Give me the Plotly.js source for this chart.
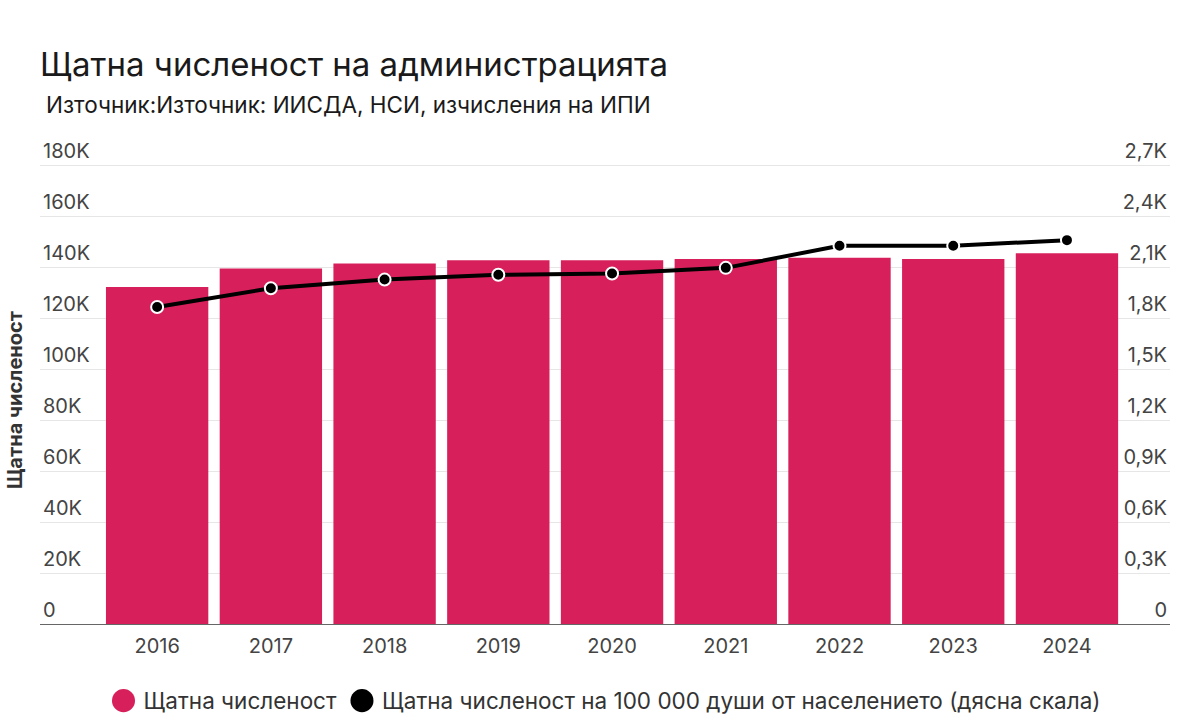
<!DOCTYPE html>
<html>
<head>
<meta charset="utf-8">
<script src="https://cdn.plot.ly/plotly-3.0.1.min.js"></script>
<style>
html,body{margin:0;padding:0;background:#fff;}
#chart{width:1194px;height:727px;}
.legendpoints path.scatterpts{transform:translate(20px,0px) scale(1.44);}
</style>
</head>
<body>
<div id="chart"></div>
<script>
const years = ['2016','2017','2018','2019','2020','2021','2022','2023','2024'];
const staff = [132200, 139400, 141400, 142600, 142600, 143100, 143600, 143100, 145400];
const staffPer100k = [1865, 1975, 2026, 2054, 2062, 2095, 2225, 2225, 2258];
const leftTickVals = [0, 20000, 40000, 60000, 80000, 100000, 120000, 140000, 160000, 180000];
const leftTickText = ['0', '20K', '40K', '60K', '80K', '100K', '120K', '140K', '160K', '180K'];
const rightTickVals = [0, 300, 600, 900, 1200, 1500, 1800, 2100, 2400, 2700];
const rightTickText = ['0', '0,3K', '0,6K', '0,9K', '1,2K', '1,5K', '1,8K', '2,1K', '2,4K', '2,7K'];
const seriesNames = ['Щатна численост', 'Щатна численост на 100 000 души от населението (дясна скала)'];

const barColor = '#d7205b';
const tickColor = '#444';
const font = 'Inter, Roboto, "Noto Sans", sans-serif';

const traces = [
  {
    type: 'bar', x: years, y: staff, name: seriesNames[0],
    marker: {color: barColor}, showlegend: false, hoverinfo: 'x+y'
  },
  {
    type: 'scatter', mode: 'lines+markers', x: years, y: staffPer100k, yaxis: 'y2',
    name: seriesNames[1], showlegend: false,
    line: {color: '#000', width: 4},
    marker: {color: '#000', size: 12, line: {color: '#fff', width: 2}}
  },
  {
    type: 'scatter', mode: 'markers', x: [null], y: [null], name: seriesNames[0],
    marker: {color: barColor, size: 16, symbol: 'circle'}
  },
  {
    type: 'scatter', mode: 'markers', x: [null], y: [null], name: seriesNames[1],
    marker: {color: '#000', size: 16, symbol: 'circle'}
  }
];

// plot area: top 125, bottom 624 (499 px); 180K sits 459 px above the base
const plotTop = 125, plotBottom = 624;
const plotH = plotBottom - plotTop;
const topFrac = plotH / 459;

const layout = {
  width: 1194, height: 727,
  margin: {l: 40, r: 24, t: plotTop, b: 727 - plotBottom},
  paper_bgcolor: '#fff', plot_bgcolor: '#fff',
  font: {family: font, color: '#333'},
  title: {
    text: 'Щатна численост на администрацията',
    font: {family: font, size: 33, color: '#1a1a1a'},
    x: 40/1194, xanchor: 'left', xref: 'container',
    y: 1 - 53/727, yanchor: 'top', yref: 'container'
  },
  bargap: 0.1,
  showlegend: true,
  legend: {
    orientation: 'h', x: 0.5, xanchor: 'center',
    yref: 'container', y: 1 - 701/727, yanchor: 'middle',
    font: {family: font, size: 22.5, color: '#333'},
    itemsizing: 'trace'
  },
  xaxis: {
    type: 'category', range: [-1.03, 8.906],
    showgrid: false, showline: true, linecolor: '#666', linewidth: 1,
    ticks: '', ticklabelstandoff: 4,
    tickfont: {family: font, size: 20, color: tickColor},
    fixedrange: true
  },
  yaxis: {
    range: [0, 180000 * topFrac], tickvals: leftTickVals, ticktext: leftTickText,
    showgrid: true, gridcolor: '#e6e6e6', gridwidth: 1, zeroline: false,
    ticklabelposition: 'inside top', ticks: '',
    tickfont: {family: font, size: 20, color: tickColor},
    title: {text: ''}
  },
  yaxis2: {
    range: [0, 2700 * topFrac], tickvals: rightTickVals, ticktext: rightTickText,
    overlaying: 'y', side: 'right', showgrid: false, zeroline: false,
    ticklabelposition: 'inside top', ticks: '',
    tickfont: {family: font, size: 20, color: tickColor}
  },
  annotations: [
    {
      text: 'Източник:Източник: ИИСДА, НСИ, изчисления на ИПИ',
      xref: 'paper', yref: 'paper', x: 4/1130, xanchor: 'left', align: 'left',
      y: 1 + (plotTop - 104)/plotH, yanchor: 'middle', showarrow: false,
      font: {family: font, size: 22.5, color: '#1a1a1a'}
    },
    {
      text: '<b>Щатна численост</b>',
      xref: 'paper', yref: 'paper', x: -25/1130, xanchor: 'center',
      y: (plotBottom - 400)/plotH, yanchor: 'middle', showarrow: false, textangle: -90,
      font: {family: font, size: 20, color: '#333'}
    }
  ]
};

Plotly.newPlot('chart', traces, layout, {displayModeBar: false, staticPlot: true});
</script>
</body>
</html>
